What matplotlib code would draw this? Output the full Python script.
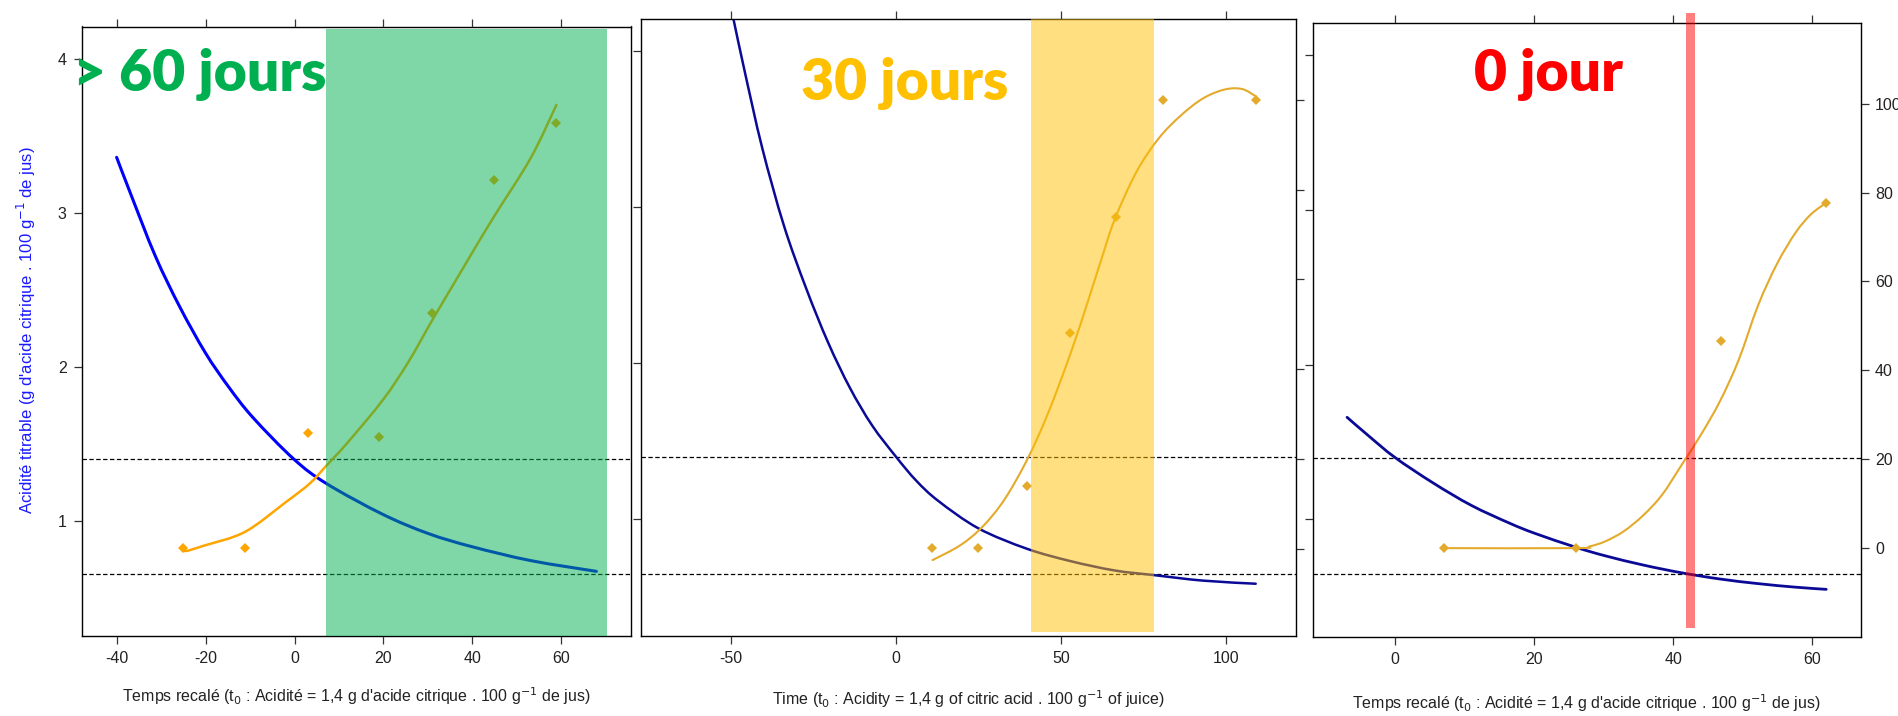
import matplotlib.pyplot as plt
from matplotlib import font_manager
from matplotlib.path import Path
from matplotlib.patches import PathPatch

# --- panel 1 : > 60 jours
p1_blue_x = [-40.1, -36.9, -31.4, -25.9, -20.1, -14.9, -9.4, -0.2, 7.2, 19.9, 30.2, 40.0, 53.2, 68.0]
p1_blue_y = [3.36, 3.12, 2.72, 2.39, 2.09, 1.87, 1.67, 1.40, 1.24, 1.04, 0.915, 0.83, 0.74, 0.67]
p1_fit_x = [-25.2, -24.5, -20.4, -11.2, -2.0, 3.5, 7.2, 11.8, 19.9, 25.6, 30.9, 34.8, 40.0, 45.0, 53.2, 59.0]
p1_fit_y = [0.0, -0.7, 0.5, 3.6, 10.3, 14.6, 18.6, 23.6, 33.4, 41.9, 51.2, 57.8, 66.6, 74.9, 88.0, 100.0]
p1_pts_x = [-25.2, -11.2, 3.0, 19.0, 30.9, 45.0, 59.0]
p1_pts_y = [0, 0, 26, 25, 53, 83, 96]
p1_span = [7.1, 70.4]

# --- panel 2 : 30 jours
p2_blue_x = [-52, -49.2, -45.9, -40.5, -33.9, -27.2, -20.5, -13.9, -7.2, 0, 6.2, 12.9, 25, 39.6, 52.9, 66.3, 78.3, 93, 109]
p2_blue_y = [4.48, 4.205, 3.88, 3.38, 2.88, 2.48, 2.13, 1.84, 1.60, 1.40, 1.245, 1.115, 0.94, 0.81, 0.73, 0.67, 0.64, 0.605, 0.585]
p2_fit_x = [11.1, 19.5, 26.2, 32.9, 40.0, 46.2, 52.9, 58.2, 62.3, 66.3, 72.9, 79.6, 86.3, 93.0, 99.6, 104.9, 109.0]
p2_fit_y = [-2.5, 0.8, 4.9, 11.0, 20.2, 30.4, 43.5, 55.2, 64.6, 73.4, 84.0, 91.4, 96.5, 100.3, 102.3, 102.4, 100.8]
p2_pts_x = [10.9, 24.9, 39.7, 52.8, 66.8, 80.9, 109.0]
p2_pts_y = [0.2, 0.2, 14, 48, 74, 100, 100]
p2_span = [41.0, 78.3]

# --- panel 3 : 0 jour
p3_blue_x = [-6.9, -3.8, 0, 5.5, 11.0, 16.5, 20.1, 26.0, 30.2, 35.7, 41.2, 46.7, 52.2, 57.6, 62.0]
p3_blue_y = [1.66, 1.54, 1.40, 1.235, 1.09, 0.975, 0.91, 0.82, 0.765, 0.705, 0.655, 0.615, 0.585, 0.562, 0.548]
p3_fit_x = [7.0, 26.0, 28.0, 30.2, 32.9, 35.7, 38.4, 41.2, 43.9, 46.7, 49.4, 52.2, 54.9, 57.6, 59.8, 62.0]
p3_fit_y = [0, 0, 0.4, 1.5, 3.8, 7.4, 12.0, 18.7, 25.3, 33.0, 42.3, 54.6, 63.9, 71.0, 75.1, 77.7]
p3_pts_x = [7.0, 26.0, 46.9, 62.0]
p3_pts_y = [0, 0, 46.6, 77.7]
p3_span = [41.9, 43.2]

seuils = [1.4, 0.65]

names = [f.name for f in font_manager.fontManager.ttflist]
narrow = 'Liberation Sans Narrow' if 'Liberation Sans Narrow' in names else 'Liberation Sans'
plt.rcParams['font.family'] = [narrow, 'DejaVu Sans']
plt.rcParams['axes.unicode_minus'] = False

W, H = 1899, 716
fig = plt.figure(figsize=(W / 100, H / 100), dpi=100)


def box(x0, y0, x1, y1):
    return [x0 / W, 1 - y1 / H, (x1 - x0) / W, (y1 - y0) / H]


def smooth(ax, xs, ys, **kw):
    # courbe lissee (bezier) passant par les points lus
    pts = list(zip(xs, ys))
    n = len(pts)
    verts = [pts[0]]
    codes = [Path.MOVETO]
    for i in range(n - 1):
        p0 = pts[i - 1] if i > 0 else pts[i]
        p1, p2 = pts[i], pts[i + 1]
        p3 = pts[i + 2] if i + 2 < n else p2
        c1 = (p1[0] + (p2[0] - p0[0]) / 6, p1[1] + (p2[1] - p0[1]) / 6)
        c2 = (p2[0] - (p3[0] - p1[0]) / 6, p2[1] - (p3[1] - p1[1]) / 6)
        verts += [c1, c2, p2]
        codes += [Path.CURVE4] * 3
    ax.add_patch(PathPatch(Path(verts, codes), fill=False, capstyle='round', **kw))


def style(ax, xlim, ylim, xticks):
    ax.set_xlim(*xlim)
    ax.set_ylim(*ylim)
    ax.set_xticks(xticks)
    ax.set_yticks([1, 2, 3, 4])
    for s in ax.spines.values():
        s.set_color('#333333')
        s.set_linewidth(1.0)
    ax.tick_params(direction='out', length=6, width=0.9, color='#333333',
                   labelsize=11.5, labelcolor='#222222', top=True, labeltop=False,
                   right=False, pad=5)
    for y in seuils:
        ax.axhline(y, color='black', lw=0.9, ls=(0, (3.5, 2)), zorder=1)


# panel 1
ax1 = fig.add_axes(box(82, 26.5, 631, 636))
style(ax1, (-47.9, 75.8), (0.25, 4.21), [-40, -20, 0, 20, 40, 60])
smooth(ax1, p1_blue_x, p1_blue_y, edgecolor='#0000ff', lw=2.2, zorder=3)
t1 = ax1.twinx()
t1.set_ylim(-19.9, 117.7)
t1.set_yticks([])
smooth(t1, p1_fit_x, p1_fit_y, edgecolor='#ffa500', lw=1.8)
t1.plot(p1_pts_x, p1_pts_y, 'D', color='#ffa500', ms=5.2, mew=0)
t1.axvspan(p1_span[0], p1_span[1], 0, 0.996, color='#00b050', alpha=0.5, lw=0, zorder=5)

# panel 2
ax2 = fig.add_axes(box(641, 19, 1296, 636))
style(ax2, (-77.2, 121.2), (0.25, 4.205), [-50, 0, 50, 100])
ax2.set_yticklabels([])
smooth(ax2, p2_blue_x, p2_blue_y, edgecolor='#0a0a96', lw=1.8, zorder=3)
t2 = ax2.twinx()
t2.set_ylim(-19.4, 118)
t2.set_yticks([0, 20, 40, 60, 80, 100])
t2.set_yticklabels([])
t2.tick_params(direction='out', length=6, width=0.9, color='#333333')
smooth(t2, p2_fit_x, p2_fit_y, edgecolor='#e3aa2b', lw=1.5)
t2.plot(p2_pts_x, p2_pts_y, 'D', color='#e3aa2b', ms=5.2, mew=0)
t2.axvspan(p2_span[0], p2_span[1], 0.0065, 1.0, color='#ffc000', alpha=0.5, lw=0, zorder=5)

# panel 3
ax3 = fig.add_axes(box(1313, 22.8, 1861, 637))
style(ax3, (-11.8, 67.0), (0.24, 4.21), [0, 20, 40, 60])
ax3.set_yticklabels([])
smooth(ax3, p3_blue_x, p3_blue_y, edgecolor='#0a0a96', lw=2.0, zorder=3)
t3 = ax3.twinx()
t3.set_ylim(-20.0, 118.2)
t3.set_yticks([0, 20, 40, 60, 80, 100])
t3.tick_params(direction='out', length=6, width=0.9, color='#333333',
               labelsize=11.5, labelcolor='#222222', pad=4)
smooth(t3, p3_fit_x, p3_fit_y, edgecolor='#e3aa2b', lw=1.5)
t3.plot(p3_pts_x, p3_pts_y, 'D', color='#e3aa2b', ms=5.2, mew=0)
t3.axvspan(p3_span[0], p3_span[1], 0.0147, 1.0166, color='#ff0000', alpha=0.5, lw=0,
           zorder=5, clip_on=False)

# labels
fig.text(26.5 / W, 1 - 330 / H,
         "Acidité titrable (g d'acide citrique . 100 g$^{-1}$ de jus)",
         rotation=90, color='#1a1aff', fontsize=12, ha='center', va='center')
lab_fr = "Temps recalé (t$_0$ : Acidité = 1,4 g d'acide citrique . 100 g$^{-1}$ de jus)"
fig.text(356 / W, 1 - 696 / H, lab_fr, fontsize=11.5, color='#222222', ha='center', va='center')
fig.text(968 / W, 1 - 699 / H,
         "Time (t$_0$ : Acidity = 1,4 g of citric acid . 100 g$^{-1}$ of juice)",
         fontsize=11.5, color='#222222', ha='center', va='center')
fig.text(1586 / W, 1 - 703 / H, lab_fr, fontsize=11.5, color='#222222', ha='center', va='center')

big = dict(fontsize=41, fontweight='heavy', family=['Lato', 'DejaVu Sans'],
           ha='left', va='baseline', zorder=10)
fig.text(73 / W, 1 - 91 / H, '> 60 jours', color='#00b050', **big)
fig.text(801 / W, 1 - 99.5 / H, '30 jours', color='#ffc000', **big)
fig.text(1474 / W, 1 - 91 / H, '0 jour', color='#ff0000', **big)

fig.savefig('out.png', dpi=100)
